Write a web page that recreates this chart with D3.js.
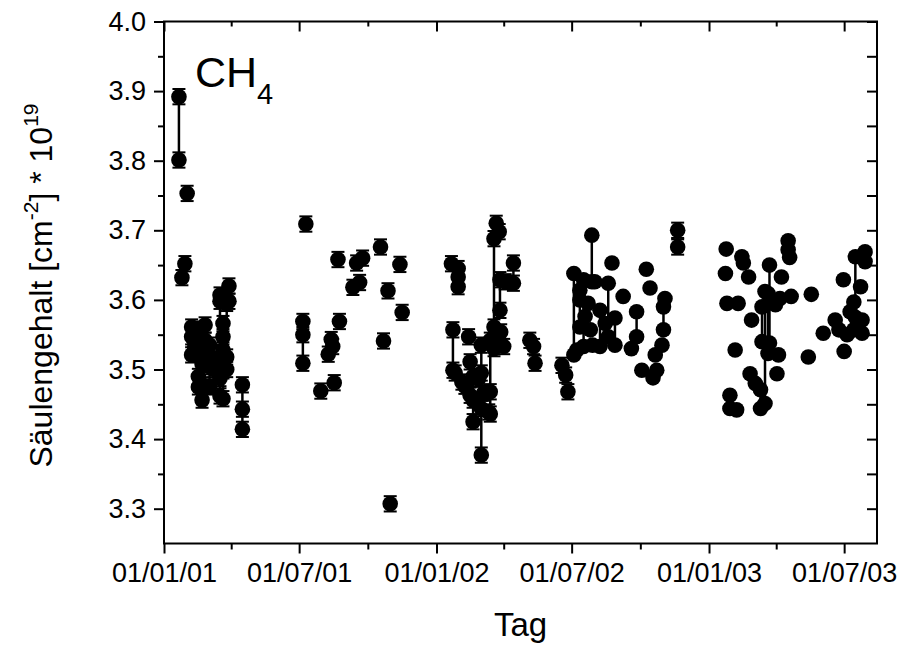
<!DOCTYPE html>
<html>
<head>
<meta charset="utf-8">
<script src="https://cdn.jsdelivr.net/npm/d3@7"></script>
<style>
  body { margin: 0; background: #fff; }
  svg { display: block; }
  text { font-family: "Liberation Sans", Arial, Helvetica, sans-serif; fill: #000; }
</style>
</head>
<body>
<svg id="chart" width="902" height="648"></svg>
<script>
// CH4 column amounts (10^19 cm^-2), one row per measurement day:
// [date, retrievals of that day, 1-sigma error (0 = no bar drawn)]
const days2001 = [
  ["2001-01-21", [3.892, 3.801], 0.011],
  ["2001-01-25", [3.632], 0.011],
  ["2001-01-29", [3.652], 0.011],
  ["2001-02-01", [3.753], 0.011],
  ["2001-02-07", [3.561, 3.547, 3.521], 0.011],
  ["2001-02-11", [3.558, 3.540, 3.532], 0.011],
  ["2001-02-16", [3.545, 3.528, 3.490, 3.475], 0.011],
  ["2001-02-21", [3.508, 3.478, 3.456], 0.011],
  ["2001-02-25", [3.564, 3.542, 3.520], 0.011],
  ["2001-03-03", [3.535, 3.504, 3.475], 0.011],
  ["2001-03-09", [3.515, 3.500], 0.011],
  ["2001-03-17", [3.607, 3.598, 3.487, 3.462], 0.011],
  ["2001-03-21", [3.566, 3.547, 3.528, 3.498, 3.458], 0.011],
  ["2001-03-26", [3.595, 3.518, 3.500], 0.011],
  ["2001-03-29", [3.620, 3.598], 0.011],
  ["2001-04-16", [3.478, 3.443, 3.414], 0.011],
  ["2001-07-06", [3.569, 3.550, 3.509], 0.011],
  ["2001-07-10", [3.709], 0.011],
  ["2001-07-30", [3.469], 0.011],
  ["2001-08-09", [3.522], 0.011],
  ["2001-08-13", [3.543], 0.011],
  ["2001-08-15", [3.533], 0.011],
  ["2001-08-17", [3.481], 0.011],
  ["2001-08-22", [3.658], 0.011],
  ["2001-08-24", [3.569], 0.011],
  ["2001-09-11", [3.618], 0.011],
  ["2001-09-16", [3.653], 0.011],
  ["2001-09-20", [3.625], 0.011],
  ["2001-09-24", [3.660], 0.011],
  ["2001-10-18", [3.676], 0.011],
  ["2001-10-22", [3.541], 0.011],
  ["2001-10-28", [3.613], 0.011],
  ["2001-10-31", [3.307], 0.011],
  ["2001-11-13", [3.651], 0.011],
  ["2001-11-16", [3.582], 0.011]
];

const days2002 = [
  ["2002-01-21", [3.652], 0.011],
  ["2002-01-23", [3.557, 3.499], 0.011],
  ["2002-01-26", [3.495], 0.011],
  ["2002-01-30", [3.645, 3.633, 3.619], 0.011],
  ["2002-02-04", [3.482], 0.011],
  ["2002-02-08", [3.476], 0.011],
  ["2002-02-13", [3.547], 0.011],
  ["2002-02-15", [3.511, 3.463], 0.011],
  ["2002-02-19", [3.490, 3.456, 3.425], 0.011],
  ["2002-02-26", [3.486], 0.011],
  ["2002-03-02", [3.535, 3.495, 3.444, 3.377], 0.011],
  ["2002-03-05", [3.466], 0.011],
  ["2002-03-12", [3.439], 0.011],
  ["2002-03-14", [3.542, 3.468, 3.436], 0.011],
  ["2002-03-19", [3.688, 3.561, 3.530], 0.011],
  ["2002-03-22", [3.710], 0.011],
  ["2002-03-26", [3.698], 0.011],
  ["2002-03-27", [3.629, 3.585], 0.011],
  ["2002-03-28", [3.554], 0.011],
  ["2002-04-01", [3.533], 0.011],
  ["2002-04-03", [3.626], 0.011],
  ["2002-04-14", [3.653, 3.624], 0.011],
  ["2002-05-06", [3.542], 0.011],
  ["2002-05-11", [3.533], 0.011],
  ["2002-05-13", [3.509], 0.011],
  ["2002-06-18", [3.506], 0.011],
  ["2002-06-23", [3.492], 0.011],
  ["2002-06-26", [3.468], 0.011],
  ["2002-07-04", [3.638, 3.521], 0],
  ["2002-07-08", [3.528], 0],
  ["2002-07-12", [3.614, 3.600, 3.561], 0],
  ["2002-07-17", [3.629, 3.533], 0],
  ["2002-07-19", [3.576], 0],
  ["2002-07-23", [3.595], 0],
  ["2002-07-26", [3.557], 0],
  ["2002-07-28", [3.693, 3.626], 0],
  ["2002-07-29", [3.535], 0],
  ["2002-08-01", [3.626], 0],
  ["2002-08-08", [3.585, 3.533], 0],
  ["2002-08-15", [3.566], 0],
  ["2002-08-19", [3.624, 3.547], 0],
  ["2002-08-24", [3.653], 0],
  ["2002-08-28", [3.574, 3.535], 0],
  ["2002-09-08", [3.605], 0],
  ["2002-09-19", [3.530], 0],
  ["2002-09-26", [3.583, 3.547], 0],
  ["2002-10-03", [3.499], 0],
  ["2002-10-09", [3.644], 0],
  ["2002-10-14", [3.617], 0],
  ["2002-10-18", [3.488], 0],
  ["2002-10-21", [3.521], 0],
  ["2002-10-23", [3.499], 0],
  ["2002-10-30", [3.535], 0],
  ["2002-11-01", [3.590, 3.557], 0],
  ["2002-11-03", [3.602], 0],
  ["2002-11-20", [3.700, 3.676], 0.011]
];

const days2003 = [
  ["2003-01-23", [3.638], 0],
  ["2003-01-24", [3.673], 0],
  ["2003-01-25", [3.595], 0],
  ["2003-01-29", [3.463, 3.444], 0],
  ["2003-02-05", [3.528], 0],
  ["2003-02-07", [3.442], 0],
  ["2003-02-09", [3.595], 0],
  ["2003-02-14", [3.662], 0],
  ["2003-02-16", [3.653], 0],
  ["2003-02-23", [3.633], 0],
  ["2003-02-25", [3.494], 0],
  ["2003-02-27", [3.571], 0],
  ["2003-03-04", [3.480], 0],
  ["2003-03-11", [3.471, 3.444], 0],
  ["2003-03-13", [3.590, 3.540], 0],
  ["2003-03-17", [3.612, 3.451], 0],
  ["2003-03-21", [3.609, 3.523], 0],
  ["2003-03-23", [3.650, 3.538], 0],
  ["2003-03-31", [3.593], 0],
  ["2003-04-02", [3.494], 0],
  ["2003-04-04", [3.521], 0],
  ["2003-04-06", [3.602], 0],
  ["2003-04-08", [3.633], 0],
  ["2003-04-17", [3.685, 3.672], 0],
  ["2003-04-19", [3.661], 0],
  ["2003-04-21", [3.605], 0],
  ["2003-05-14", [3.518], 0],
  ["2003-05-18", [3.608], 0],
  ["2003-06-03", [3.552], 0],
  ["2003-06-19", [3.571], 0],
  ["2003-06-24", [3.557], 0],
  ["2003-06-30", [3.629], 0],
  ["2003-07-01", [3.526], 0],
  ["2003-07-05", [3.550], 0],
  ["2003-07-09", [3.583], 0],
  ["2003-07-14", [3.597, 3.557], 0],
  ["2003-07-16", [3.662, 3.575], 0],
  ["2003-07-23", [3.619], 0],
  ["2003-07-25", [3.571, 3.552], 0],
  ["2003-07-29", [3.669, 3.655], 0]
];

// axis layout values
const xDomain = ["2001-01-01", "2003-08-14"];
const xMajorTicks = ["2001-01-01", "2001-07-01", "2002-01-01", "2002-07-01", "2003-01-01", "2003-07-01"];
const xMinorTicks = ["2001-04-01", "2001-10-01", "2002-04-01", "2002-10-01", "2003-04-01"];
const yDomain = [3.25, 4.0];
const yMajorTicks = [3.3, 3.4, 3.5, 3.6, 3.7, 3.8, 3.9, 4.0];
const yMinorTicks = [3.35, 3.45, 3.55, 3.65, 3.75, 3.85, 3.95];

const parse = d3.utcParse("%Y-%m-%d");
const days = [...days2001, ...days2002, ...days2003].map(([d, v, e]) => ({ date: parse(d), values: v, err: e }));
const points = days.flatMap(d => d.values.map(v => ({ date: d.date, value: v, err: d.err })));

const svg = d3.select("#chart");
const plotLeft = 164, plotRight = 877, plotTop = 21.5, plotBottom = 543.5;

const x = d3.scaleUtc().domain(xDomain.map(parse)).range([plotLeft, plotRight]);
const y = d3.scaleLinear().domain(yDomain).range([plotBottom, plotTop]);

// axes: outward ticks on left/bottom, inward mirrored ticks on top/right
const fmtDate = d3.utcFormat("%d/%m/%y");
function styleAxis(g) {
  g.select(".domain").remove();
  g.selectAll(".tick line").attr("stroke", "#000").attr("stroke-width", 2);
  g.selectAll(".tick text").attr("font-size", 27).attr("fill", "#000")
    .attr("font-family", "'Liberation Sans', Arial, sans-serif");
}

svg.append("g").attr("transform", `translate(0,${plotBottom})`)
  .call(d3.axisBottom(x).tickValues(xMajorTicks.map(parse)).tickFormat(fmtDate).tickSize(10).tickPadding(9))
  .call(styleAxis);
svg.append("g").attr("transform", `translate(0,${plotBottom})`)
  .call(d3.axisBottom(x).tickValues(xMinorTicks.map(parse)).tickFormat("").tickSize(6))
  .call(styleAxis);
svg.append("g").attr("transform", `translate(0,${plotTop})`)
  .call(d3.axisTop(x).tickValues(xMajorTicks.map(parse)).tickFormat("").tickSize(-10))
  .call(styleAxis);
svg.append("g").attr("transform", `translate(0,${plotTop})`)
  .call(d3.axisTop(x).tickValues(xMinorTicks.map(parse)).tickFormat("").tickSize(-5))
  .call(styleAxis);

svg.append("g").attr("transform", `translate(${plotLeft},0)`)
  .call(d3.axisLeft(y).tickValues(yMajorTicks).tickFormat(d3.format(".1f")).tickSize(10).tickPadding(8))
  .call(styleAxis);
svg.append("g").attr("transform", `translate(${plotLeft},0)`)
  .call(d3.axisLeft(y).tickValues(yMinorTicks).tickFormat("").tickSize(6))
  .call(styleAxis);
svg.append("g").attr("transform", `translate(${plotRight},0)`)
  .call(d3.axisRight(y).tickValues(yMajorTicks.concat(yMinorTicks)).tickFormat("").tickSize(-10))
  .call(styleAxis);

// plot frame
svg.append("rect")
  .attr("x", plotLeft).attr("y", plotTop)
  .attr("width", plotRight - plotLeft).attr("height", plotBottom - plotTop)
  .attr("fill", "none").attr("stroke", "#000").attr("stroke-width", 2);

const plot = svg.append("g");

// retrievals of the same day are joined by a line
const line = d3.line().x(d => x(d.date)).y(d => y(d.value));
plot.selectAll("path.day")
  .data(days.filter(d => d.values.length > 1))
  .join("path")
  .attr("class", "day")
  .attr("d", d => line(d.values.map(v => ({ date: d.date, value: v }))))
  .attr("fill", "none").attr("stroke", "#000").attr("stroke-width", 2.5);

// symbols
plot.selectAll("circle")
  .data(points)
  .join("circle")
  .attr("cx", d => x(d.date))
  .attr("cy", d => y(d.value))
  .attr("r", 7.8)
  .attr("fill", "#000");

// error bars with caps
const eb = plot.selectAll("g.err")
  .data(points.filter(d => d.err > 0))
  .join("g").attr("class", "err")
  .attr("stroke", "#000").attr("stroke-width", 2);
eb.append("line")
  .attr("x1", d => x(d.date)).attr("x2", d => x(d.date))
  .attr("y1", d => y(d.value - d.err)).attr("y2", d => y(d.value + d.err));
eb.append("line")
  .attr("x1", d => x(d.date) - 6.5).attr("x2", d => x(d.date) + 6.5)
  .attr("y1", d => y(d.value + d.err)).attr("y2", d => y(d.value + d.err));
eb.append("line")
  .attr("x1", d => x(d.date) - 6.5).attr("x2", d => x(d.date) + 6.5)
  .attr("y1", d => y(d.value - d.err)).attr("y2", d => y(d.value - d.err));

// species label
const lbl = svg.append("text").attr("x", 195).attr("y", 87).attr("font-size", 43);
lbl.append("tspan").text("CH");
lbl.append("tspan").attr("font-size", 29).attr("dy", 17).text("4");

// axis titles
svg.append("text")
  .attr("x", (plotLeft + plotRight) / 2).attr("y", 636)
  .attr("text-anchor", "middle").attr("font-size", 33)
  .text("Tag");

const yt = svg.append("text")
  .attr("transform", `translate(52,${(plotTop + plotBottom) / 2 + 3}) rotate(-90)`)
  .attr("text-anchor", "middle").attr("font-size", 32);
yt.append("tspan").text("Säulengehalt [cm");
yt.append("tspan").attr("font-size", 21).attr("dy", -14).text("-2");
yt.append("tspan").attr("dy", 14).text("] * 10");
yt.append("tspan").attr("font-size", 21).attr("dy", -14).text("19");
</script>
</body>
</html>
